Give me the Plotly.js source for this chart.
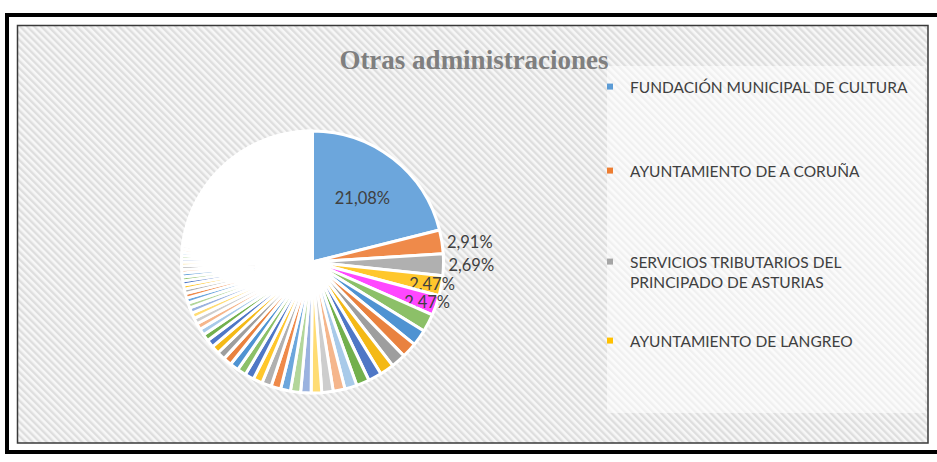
<!DOCTYPE html>
<html>
<head>
<meta charset="utf-8">
<script src="https://cdn.plot.ly/plotly-3.0.1.min.js"></script>
<style>html,body{margin:0;padding:0;background:#fff;}#chart{width:937px;height:462px;}</style>
</head>
<body>
<div id="chart"></div>
<script>
// ---- data ----
const chartTitle = 'Otras administraciones';
const legendLabels = [
  'FUNDACIÓN MUNICIPAL DE CULTURA',
  'AYUNTAMIENTO DE A CORUÑA',
  'SERVICIOS TRIBUTARIOS DEL<br>PRINCIPADO DE ASTURIAS',
  'AYUNTAMIENTO DE LANGREO'
];
// labelled slices (%)
const labeledShares = [21.08, 2.91, 2.69, 2.47, 2.47];
// unlabelled slices (%)
const midShares = [2.2, 2.0, 1.9, 1.8, 1.75, 1.65, 1.6, 1.5, 1.45, 1.4, 1.3,
  1.28, 1.25, 1.22, 1.2, 1.18, 1.15, 1.12, 1.1, 1.08, 1.05, 1.02, 1.0, 0.95];
const smallShares = [0.85, 0.8, 0.77, 0.74, 0.7, 0.67, 0.64, 0.61, 0.58, 0.55, 0.52];
const tinyShares = [0.5, 0.48, 0.47, 0.45, 0.44, 0.43, 0.42, 0.41, 0.4, 0.39, 0.38, 0.37,
  0.36, 0.36, 0.35, 0.34, 0.34, 0.33, 0.33, 0.32, 0.32, 0.31, 0.31, 0.3, 0.3];
const tailShares = [
  0.29, 0.29, 0.29, 0.29, 0.29, 0.29, 0.29, 0.29, 0.29, 0.29,
  0.28, 0.28, 0.28, 0.28, 0.28, 0.28, 0.28, 0.28, 0.28, 0.28,
  0.27, 0.27, 0.27, 0.27, 0.27, 0.27, 0.27, 0.27, 0.27, 0.27,
  0.26, 0.26, 0.26, 0.26, 0.26, 0.26, 0.26, 0.26, 0.26, 0.26,
  0.25, 0.25, 0.25, 0.25, 0.25, 0.25, 0.25, 0.25, 0.25, 0.25,
  0.24, 0.24, 0.24, 0.24, 0.24, 0.24, 0.24, 0.24, 0.24, 0.24,
  0.23, 0.23, 0.23, 0.23, 0.23, 0.23, 0.23, 0.23, 0.23, 0.23,
  0.19
];

// ---- styling ----
const palette = ['#6CA6DC', '#EF8A4A', '#B0B0B0', '#FFC72C', '#4F77C6', '#8CC068',
  '#4F93D2', '#E9823F', '#9E9E9E', '#F4B916', '#4F77C6', '#72B04D',
  '#A8CAE9', '#F5B68C', '#CDCDCD', '#FFDC73', '#9AB2DF', '#B2D69A'];
const pink = '#FF47FF';
const legendColors = ['#5B9BD5', '#ED7D31', '#A5A5A5', '#FFC000'];

const values = [].concat(labeledShares, midShares, smallShares, tinyShares, tailShares);
const colors = values.map((v, i) => i === 4 ? pink : palette[i % palette.length]);
const texttemplate = values.map((v, i) => i < labeledShares.length ? '%{percent:.2%}' : '');
const textposition = values.map((v, i) => (i === 1 || i === 2) ? 'outside' : (i < labeledShares.length ? 'inside' : 'none'));

const W = 937, H = 462;
const px = x => x / W, py = y => 1 - y / H;

const pie = {
  type: 'pie',
  values: values,
  sort: false,
  direction: 'clockwise',
  rotation: 0,
  marker: {colors: colors, line: {color: '#ffffff', width: 3}},
  texttemplate: texttemplate,
  textposition: textposition,
  insidetextorientation: 'horizontal',
  textfont: {family: 'Lato, sans-serif', size: 16.5, color: '#404040'},
  hoverinfo: 'none',
  showlegend: false,
  domain: {x: [px(312.5 - 131), px(312.5 + 131)], y: [py(262 + 131), py(262 - 131)]}
};

const legendNames = ['legend', 'legend2', 'legend3', 'legend4'];
const legendCenters = [87, 171, 245, 341];
const legendTraces = legendLabels.map((name, i) => ({
  type: 'scatter', x: [null], y: [null], mode: 'markers',
  name: name,
  marker: {symbol: 'square', size: 6, color: legendColors[i]},
  legend: legendNames[i],
  hoverinfo: 'none'
}));

const svgBg = "<svg xmlns='http://www.w3.org/2000/svg' width='911' height='418'>" +
  "<defs><pattern id='p' patternUnits='userSpaceOnUse' width='5' height='5' patternTransform='rotate(-45)'>" +
  "<rect width='5' height='5' fill='#f7f7f7'/><rect width='2.4' height='5' fill='#dedede'/></pattern></defs>" +
  "<rect width='911' height='418' fill='url(#p)'/></svg>";

const layout = {
  width: W, height: H,
  margin: {l: 0, r: 0, t: 0, b: 0},
  paper_bgcolor: '#ffffff',
  plot_bgcolor: 'rgba(0,0,0,0)',
  separators: ',.',
  uniformtext: {mode: 'show', minsize: 16.5},
  xaxis: {visible: false},
  yaxis: {visible: false},
  title: {
    text: chartTitle,
    x: px(474), xanchor: 'center', y: py(60), yanchor: 'middle',
    font: {family: '"Liberation Serif", "DejaVu Serif", serif', size: 27, color: '#7F7F7F', weight: 'bold'}
  },
  images: [{
    source: 'data:image/svg+xml;charset=utf-8,' + encodeURIComponent(svgBg),
    xref: 'paper', yref: 'paper',
    x: px(17), y: py(25), sizex: px(928) - px(17), sizey: py(25) - py(443),
    xanchor: 'left', yanchor: 'top', sizing: 'stretch', layer: 'below'
  }],
  shapes: [
    {type: 'rect', xref: 'paper', yref: 'paper', x0: px(607), x1: px(925), y0: py(413), y1: py(66),
      fillcolor: 'rgba(255,255,255,0.55)', line: {width: 0}, layer: 'below'},
    {type: 'rect', xref: 'paper', yref: 'paper', x0: px(17.5), x1: px(928), y0: py(443), y1: py(25.5),
      fillcolor: 'rgba(0,0,0,0)', line: {color: '#3a3a3a', width: 1.5}},
    {type: 'rect', xref: 'paper', yref: 'paper', x0: px(7), x1: px(945), y0: py(452), y1: py(15),
      fillcolor: 'rgba(0,0,0,0)', line: {color: '#000000', width: 4}}
  ]
};
legendNames.forEach((ln, i) => {
  layout[ln] = {
    x: px(590), xanchor: 'left', y: py(legendCenters[i]), yanchor: i === 2 ? 'top' : 'middle',
    bgcolor: 'rgba(0,0,0,0)', borderwidth: 0, valign: 'top',
    font: {family: 'Lato, sans-serif', size: 15.5, color: '#404040'}
  };
});

Plotly.newPlot('chart', [pie].concat(legendTraces), layout, {displayModeBar: false, staticPlot: true});
</script>
</body>
</html>
